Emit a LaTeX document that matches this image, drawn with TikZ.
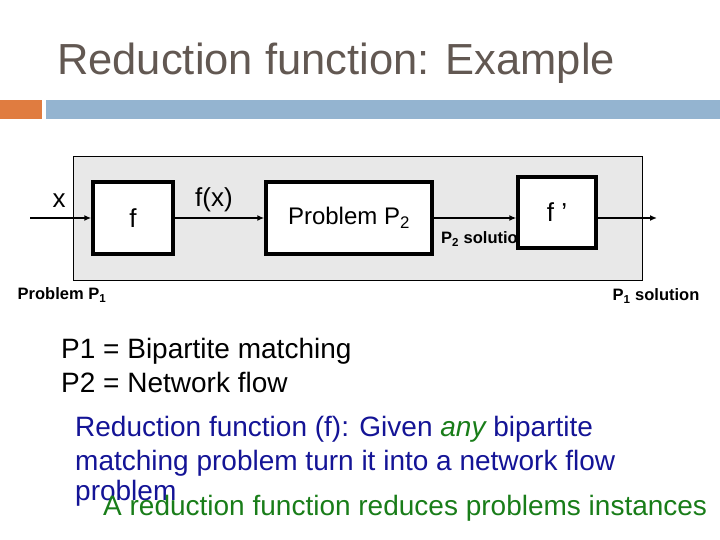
\documentclass[tikz,border=0pt]{standalone}
\usepackage{fontspec}
\setmainfont{Liberation Sans}
\usetikzlibrary{arrows.meta, positioning, calc}
\definecolor{ttl}{RGB}{98, 88, 82}
\definecolor{org}{RGB}{224, 124, 64}
\definecolor{bar}{RGB}{148, 180, 208}
\definecolor{blu}{RGB}{20, 20, 150}
\definecolor{grn}{RGB}{25, 125, 25}
\definecolor{pan}{RGB}{232, 232, 232}

\begin{document}
\begin{tikzpicture}[
    x=1pt, y=-1pt,
    >={Latex[length=7pt, width=6pt]},
    blk/.style={rectangle, draw=black, fill=white, line width=3.4pt,
      inner sep=0pt, font=\fontsize{26}{30}\selectfont},
    lbl/.style={inner sep=0pt, font=\fontsize{26}{30}\selectfont},
    small/.style={inner sep=0pt, font=\fontsize{16.5}{19}\selectfont\bfseries},
    txt/.style={anchor=base west, inner sep=0pt, font=\fontsize{28}{33}\selectfont},
    link/.style={->, line width=2.4pt}
  ]
  \useasboundingbox (0,0) rectangle (720,540);
  % title and bars
  \node[anchor=base west, inner sep=0pt, text=ttl, font=\fontsize{43.5}{50}\selectfont]
    (title) at (57,75) {Reduction function: Example};
  \fill[org] (0,100) rectangle (42,119);
  \fill[bar] (46,100) rectangle (720,119);
  % problem P1 panel
  \draw[fill=pan, line width=1pt] (73,157) rectangle (642,280);
  \coordinate (in) at (30,218);
  \coordinate (out) at (657,218);
  \node[blk, minimum width=80pt, minimum height=72pt] (f) at (133,218) {f};
  \node[blk, minimum width=166pt, minimum height=72pt, font=\fontsize{24}{28}\selectfont]
    (p2) at (349,218) {Problem P\textsubscript{2}};
  \node[small, anchor=west] (p2s) at (441,239) {P\textsubscript{2} solution};
  \node[blk, minimum width=78pt, minimum height=71pt] (fp) at (557,212.5) {f ’};
  \draw[link] (in) -- (f.west);
  \draw[link] (f.east) -- (p2.west);
  \draw[link] (p2.east) -- (p2.east -| fp.west);
  \draw[link] (fp.east |- out) -- (out);
  \node[lbl] (x) at (59,201) {x};
  \node[lbl] (fx) at (214,200) {f(x)};
  \node[small] (p1) at (62,295) {Problem P\textsubscript{1}};
  \node[small] (p1s) at (656,296) {P\textsubscript{1} solution};
  % definitions
  \node[txt] (d1) at (61,358) {P1 = Bipartite matching};
  \node[txt] (d2) at (61,392) {P2 = Network flow};
  \node[txt, text=blu] (r1) at (75,436) {Reduction function (f): Given \textcolor{grn}{\itshape any} bipartite};
  \node[txt, text=blu] (r2) at (75,470) {matching problem turn it into a network flow};
  \node[txt, text=blu] (r3) at (75,500) {problem};
  \node[txt, text=grn] (r4) at (103,515) {A reduction function reduces problems instances};
\end{tikzpicture}
\end{document}
